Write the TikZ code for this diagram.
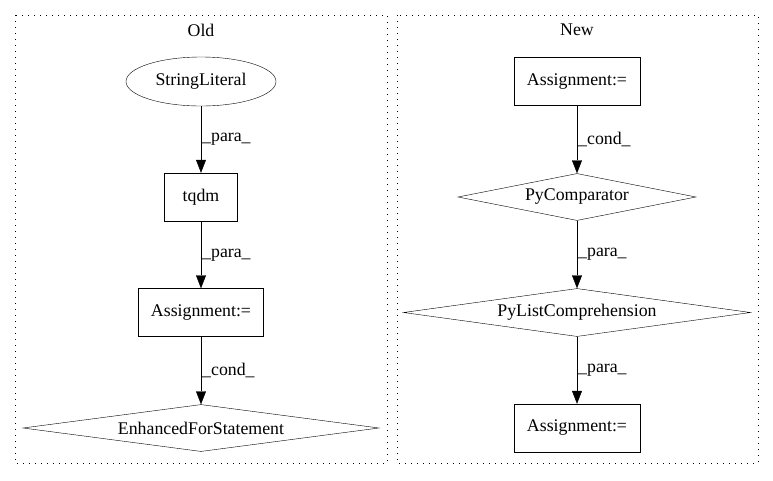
\documentclass[tikz,border=0pt]{standalone}
\usepackage{fontspec}
\setmainfont{Liberation Serif}
\usetikzlibrary{
    arrows.meta,
    shapes.geometric,
    positioning
}
\tikzset{
    >={Triangle[length=13pt,width=10pt]},
    x=1pt, y=-1pt,
    line width=1.3pt,
    node distance=115.5pt,
    every node/.style={font=\fontsize{17.8pt}{20pt}\selectfont},
    box/.style={draw, rectangle, minimum height=48pt, inner sep=0pt},
    lit/.style={draw, ellipse, minimum width=150pt, minimum height=49pt, inner sep=0pt},
    cond/.style={draw, diamond, aspect=7, inner sep=0pt, minimum height=47pt},
    cluster/.style={draw, dash pattern=on 1.3pt off 4.7pt},
    lbl/.style={inner sep=1pt},
}

\begin{document}
\begin{tikzpicture}[on grid,auto]
   \useasboundingbox (0,0) rectangle (773,480);
   % clusters
   \draw[cluster] (15,15) rectangle (387,463);
   \draw[cluster] (397,15) rectangle (758,463);
   \node (old) at (201,30) {Old};
   \node (new) at (577,30) {New};
   % old graph
   \node[lit] (str_lit) at (201,81.5) {StringLiteral};
   \node[box, minimum width=73pt] (tqdm) [below=of str_lit] {tqdm};
   \node[box, minimum width=125pt] (asg_o) [below=of tqdm] {Assignment:=};
   \node[cond, minimum width=356pt] (efor) [below=of asg_o] {EnhancedForStatement};
   % new graph
   \node[box, minimum width=126pt] (asg_n1) at (577,81.5) {Assignment:=};
   \node[cond, minimum width=238pt] (cmp) [below=of asg_n1] {PyComparator};
   \node[cond, minimum width=347pt, minimum height=48pt] (lcomp) [below=of cmp] {PyListComprehension};
   \node[box, minimum width=126pt] (asg_n2) [below=of lcomp] {Assignment:=};
    \path[->, every node/.style={lbl, font=\fontsize{17.8pt}{20pt}\selectfont}]
    (str_lit) edge node {\_para\_} (tqdm)
    (tqdm) edge node {\_para\_} (asg_o)
    (asg_o) edge node {\_cond\_} (efor)
    (asg_n1) edge node {\_cond\_} (cmp)
    (cmp) edge node {\_para\_} (lcomp)
    (lcomp) edge node {\_para\_} (asg_n2);
  \end{tikzpicture}
\end{document}
